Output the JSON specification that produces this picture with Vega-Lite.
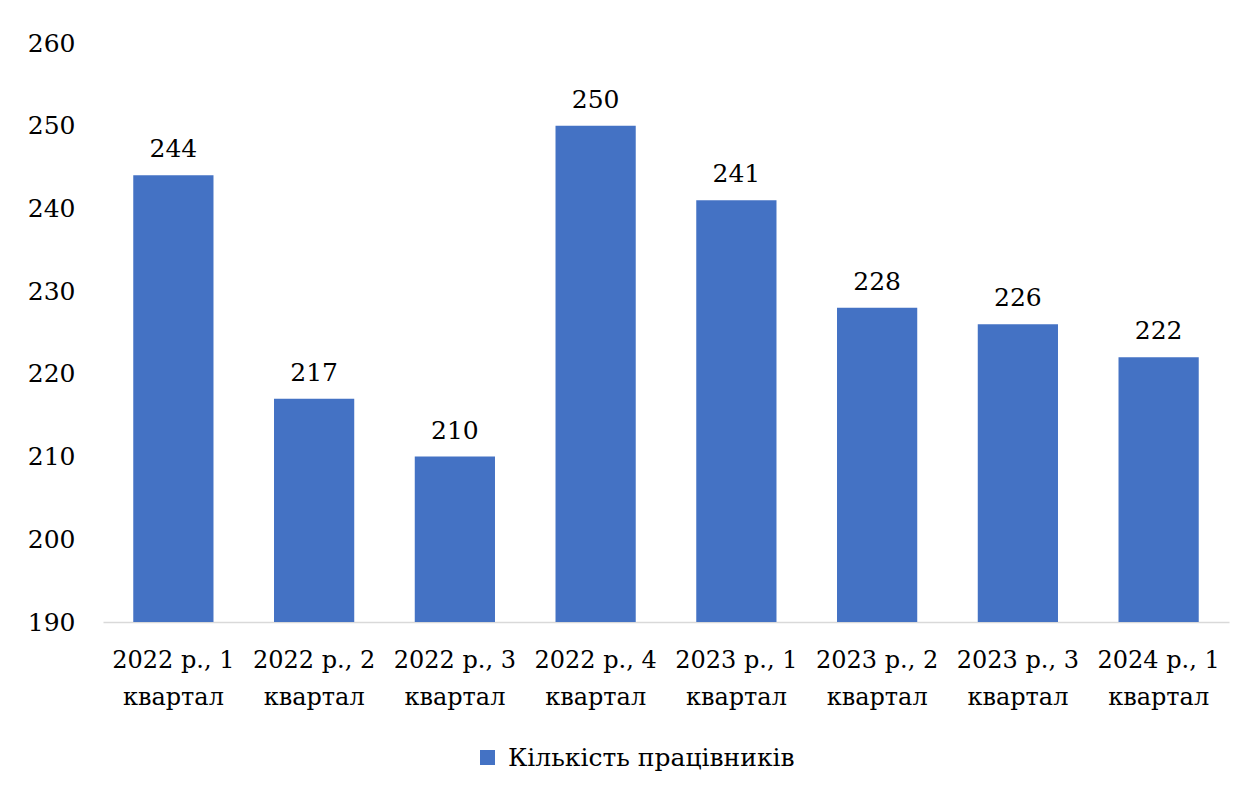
{
  "$schema": "https://vega.github.io/schema/vega-lite/v6.json",
  "width": 1126,
  "height": 579,
  "autosize": {"type": "none"},
  "padding": {"left": 103, "top": 43, "right": 19, "bottom": 169},
  "background": "white",
  "config": {
    "view": {"stroke": null},
    "font": "DejaVu Serif"
  },
  "data": {
    "values": [
      {"period": "2022 р., 1 квартал", "value": 244, "series": "Кількість працівників"},
      {"period": "2022 р., 2 квартал", "value": 217, "series": "Кількість працівників"},
      {"period": "2022 р., 3 квартал", "value": 210, "series": "Кількість працівників"},
      {"period": "2022 р., 4 квартал", "value": 250, "series": "Кількість працівників"},
      {"period": "2023 р., 1 квартал", "value": 241, "series": "Кількість працівників"},
      {"period": "2023 р., 2 квартал", "value": 228, "series": "Кількість працівників"},
      {"period": "2023 р., 3 квартал", "value": 226, "series": "Кількість працівників"},
      {"period": "2024 р., 1 квартал", "value": 222, "series": "Кількість працівників"}
    ]
  },
  "encoding": {
    "x": {
      "field": "period",
      "type": "nominal",
      "sort": null,
      "scale": {"paddingInner": 0.43, "paddingOuter": 0.215},
      "axis": {
        "title": null,
        "labelAngle": 0,
        "labelFont": "DejaVu Serif",
        "labelFontSize": 24,
        "labelColor": "#000000",
        "labelPadding": 26,
        "labelLineHeight": 37,
        "labelLimit": 0,
        "labelExpr": "[replace(datum.label, ' квартал', ''), 'квартал']",
        "ticks": false,
        "domainColor": "#d9d9d9",
        "domainWidth": 1.5,
        "grid": false
      }
    },
    "y": {
      "field": "value",
      "type": "quantitative",
      "scale": {"domain": [190, 260], "zero": false, "nice": false},
      "axis": {
        "title": null,
        "values": [190, 200, 210, 220, 230, 240, 250, 260],
        "labelFont": "DejaVu Serif",
        "labelFontSize": 25,
        "labelColor": "#000000",
        "labelPadding": 28,
        "ticks": false,
        "domain": false,
        "grid": false
      }
    }
  },
  "layer": [
    {
      "mark": {"type": "bar", "color": "#4472C4", "clip": true},
      "encoding": {
        "color": {
          "field": "series",
          "type": "nominal",
          "scale": {"range": ["#4472C4"]},
          "legend": {
            "title": null,
            "orient": "none",
            "legendX": 372,
            "legendY": 702,
            "symbolType": "square",
            "symbolSize": 225,
            "symbolStrokeWidth": 0,
            "labelFont": "DejaVu Serif",
            "labelFontSize": 25,
            "labelColor": "#000000",
            "labelLimit": 0,
            "labelOffset": 8
          }
        }
      }
    },
    {
      "mark": {
        "type": "text",
        "baseline": "bottom",
        "dy": -13,
        "font": "DejaVu Serif",
        "fontSize": 25,
        "color": "#000000"
      },
      "encoding": {"text": {"field": "value", "type": "quantitative"}}
    }
  ]
}
